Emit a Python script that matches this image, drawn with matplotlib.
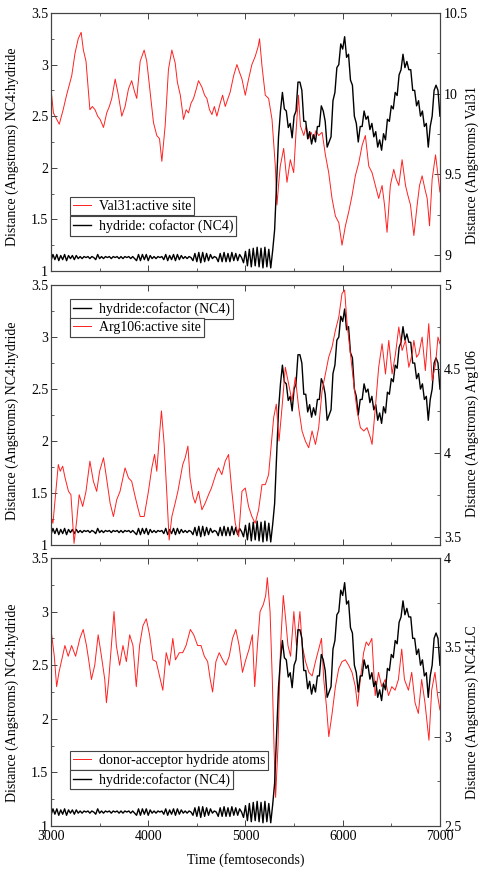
import numpy as np
import matplotlib
matplotlib.use("Agg")
import matplotlib.pyplot as plt
from matplotlib.ticker import MultipleLocator

plt.rcParams['font.family'] = ['Liberation Serif', 'DejaVu Serif']
plt.rcParams['font.size'] = 9

# hydride:cofactor (NC4) distance, every 20 fs from 3000 to 7000
black_t = np.arange(3000, 7001, 20)
black_y = [
    1.10, 1.16, 1.11, 1.16, 1.10, 1.15, 1.11, 1.16, 1.10, 1.15, 1.12, 1.15, 1.11, 1.15,
    1.12, 1.14, 1.12, 1.14, 1.13, 1.14, 1.12, 1.14, 1.13,
    1.11, 1.16, 1.12,
    1.14, 1.12, 1.14, 1.13, 1.14, 1.12, 1.14, 1.13, 1.14, 1.12, 1.14, 1.12, 1.14, 1.13, 1.14, 1.12, 1.14, 1.12,
    1.10, 1.16, 1.10, 1.16, 1.11, 1.16, 1.10, 1.15, 1.12,
    1.14, 1.12, 1.14, 1.13, 1.14,
    1.11, 1.16, 1.10, 1.15, 1.11, 1.16, 1.10, 1.16, 1.11, 1.15, 1.12,
    1.14, 1.12, 1.14, 1.13,
    1.10, 1.17, 1.09, 1.18, 1.08, 1.18, 1.09, 1.17, 1.10, 1.16,
    1.12, 1.14, 1.13,
    1.09, 1.17, 1.09, 1.18, 1.09, 1.17, 1.09, 1.18, 1.10, 1.17, 1.10, 1.16,
    1.13,
    1.08, 1.19, 1.05, 1.21, 1.04, 1.22, 1.05, 1.23, 1.04, 1.22, 1.03, 1.23, 1.04, 1.21, 1.03, 1.20,
    1.40, 1.85, 2.30, 2.55, 2.73, 2.57, 2.55, 2.39, 2.43, 2.29,
    2.50, 2.55, 2.83, 2.83, 2.75, 2.45, 2.45, 2.28, 2.35, 2.23,
    2.32, 2.25, 2.40, 2.40, 2.60, 2.55, 2.45, 2.20, 2.25, 2.30,
    2.65, 2.73, 2.97, 3.00, 3.20, 3.15, 3.27, 3.07, 3.10, 2.85,
    2.80, 2.50, 2.43, 2.25, 2.40, 2.40, 2.55, 2.47, 2.50, 2.37,
    2.43, 2.30, 2.35, 2.20, 2.27, 2.17, 2.33, 2.27, 2.47, 2.45,
    2.60, 2.57, 2.73, 2.70, 2.90, 2.95, 3.10, 2.97, 3.03, 2.95,
    2.95, 2.75, 2.75, 2.60, 2.65, 2.50, 2.55, 2.40, 2.43, 2.20,
    2.40, 2.50, 2.75, 2.80, 2.75, 2.50,
]

# Val31 : active site
val_t = [3000, 3025, 3085, 3125, 3160, 3213, 3247, 3280, 3310, 3333, 3360, 3400, 3425, 3453,
         3480, 3505, 3540, 3573, 3600, 3625, 3660, 3693, 3728, 3762, 3797, 3830, 3860, 3882,
         3917, 3958, 3985, 4020, 4054, 4088, 4116, 4140, 4174, 4208, 4243, 4277, 4300, 4330,
         4363, 4390, 4414, 4440, 4466, 4495, 4517, 4552, 4580, 4603, 4630, 4655, 4680, 4706,
         4740, 4765, 4792, 4820, 4843, 4878, 4912, 4940, 4964, 4998, 5032, 5066, 5100, 5130,
         5145, 5170, 5204, 5238, 5273, 5307, 5324, 5340, 5358, 5393, 5427, 5461, 5496, 5520,
         5545, 5565, 5600, 5625, 5650, 5675, 5700, 5725, 5753, 5788, 5822, 5856, 5890, 5925,
         5960, 5993, 6028, 6063, 6097, 6130, 6165, 6200, 6233, 6268, 6302, 6336, 6370, 6405,
         6430, 6456, 6490, 6525, 6550, 6577, 6611, 6646, 6670, 6697, 6732, 6766, 6790, 6817,
         6845, 6869, 6893, 6920, 6955, 6980, 7000]
val_y = [10.03, 9.88, 9.81, 9.90, 9.99, 10.11, 10.25, 10.34, 10.38, 10.27, 10.20, 9.90, 9.92, 9.90,
         9.86, 9.84, 9.79, 9.88, 9.92, 9.97, 10.09, 9.99, 9.86, 9.92, 10.03, 10.08, 10.01, 9.97,
         10.20, 10.27, 10.20, 10.01, 9.82, 9.74, 9.72, 9.58, 9.80, 10.15, 10.27, 10.19, 10.07, 9.99,
         9.84, 9.90, 9.88, 9.94, 9.97, 10.03, 10.08, 10.04, 9.99, 9.97, 9.90, 9.87, 9.92, 9.86,
         9.94, 9.99, 9.92, 9.97, 10.01, 10.11, 10.18, 10.13, 10.09, 9.99, 10.09, 10.18, 10.23, 10.29,
         10.34, 10.17, 9.99, 9.97, 9.84, 9.55, 9.31, 9.43, 9.55, 9.66, 9.45, 9.59, 9.51, 9.76,
         9.99, 9.80, 9.74, 9.80, 9.72, 9.76, 9.72, 9.77, 9.74, 9.76, 9.62, 9.51, 9.35, 9.24,
         9.20, 9.06, 9.18, 9.27, 9.37, 9.49, 9.57, 9.68, 9.74, 9.55, 9.51, 9.43, 9.35, 9.43,
         9.31, 9.14, 9.43, 9.53, 9.47, 9.43, 9.59, 9.43, 9.37, 9.31, 9.12, 9.31, 9.43, 9.49,
         9.41, 9.35, 9.18, 9.47, 9.62, 9.49, 9.39]

# Arg106 : active site
arg_t = [3000, 3020, 3050, 3075, 3095, 3120, 3145, 3180, 3205, 3237, 3265, 3290, 3326, 3360,
         3400, 3436, 3470, 3500, 3540, 3566, 3608, 3642, 3676, 3710, 3740, 3762, 3797, 3830,
         3865, 3890, 3917, 3958, 4002, 4037, 4065, 4088, 4116, 4136, 4164, 4190, 4215, 4243,
         4277, 4305, 4330, 4355, 4380, 4408, 4430, 4460, 4483, 4517, 4552, 4586, 4620, 4650,
         4672, 4700, 4723, 4757, 4792, 4826, 4860, 4895, 4930, 4964, 4998, 5032, 5066, 5100,
         5135, 5170, 5204, 5238, 5262, 5290, 5317, 5345, 5376, 5410, 5444, 5478, 5513, 5547,
         5582, 5616, 5650, 5685, 5720, 5753, 5788, 5822, 5856, 5890, 5925, 5960, 5993, 6020,
         6045, 6080, 6114, 6148, 6182, 6217, 6250, 6285, 6302, 6336, 6370, 6405, 6440, 6474,
         6508, 6543, 6577, 6611, 6646, 6680, 6715, 6732, 6760, 6783, 6817, 6850, 6885, 6920,
         6955, 6980, 7000]
arg_y = [3.62, 3.58, 3.77, 3.93, 3.89, 3.92, 3.85, 3.77, 3.75, 3.46, 3.60, 3.75, 3.68, 3.77,
         3.95, 3.83, 3.77, 3.89, 3.97, 3.87, 3.70, 3.62, 3.72, 3.77, 3.85, 3.91, 3.85, 3.83,
         3.74, 3.68, 3.62, 3.62, 3.77, 3.91, 3.99, 3.89, 4.11, 4.25, 4.05, 3.77, 3.48, 3.62,
         3.70, 3.77, 3.85, 3.93, 3.97, 4.04, 3.85, 3.74, 3.70, 3.77, 3.66, 3.70, 3.75, 3.79,
         3.83, 3.88, 3.91, 3.87, 3.95, 3.99, 3.77, 3.58, 3.50, 3.77, 3.79, 3.68, 3.62, 3.58,
         3.66, 3.81, 3.81, 3.87, 4.03, 4.21, 4.29, 4.07, 4.27, 4.51, 4.41, 4.31, 4.45, 4.27,
         4.13, 4.07, 4.03, 4.13, 4.05, 4.15, 4.37, 4.47, 4.57, 4.63, 4.73, 4.81, 4.95, 4.97,
         4.77, 4.59, 4.41, 4.25, 4.15, 4.13, 4.15, 4.09, 4.05, 4.27, 4.51, 4.65, 4.47, 4.67,
         4.47, 4.59, 4.75, 4.61, 4.67, 4.51, 4.59, 4.67, 4.57, 4.59, 4.69, 4.49, 4.77, 4.43,
         4.53, 4.69, 4.65]

# donor-acceptor hydride atoms (NC4:LC)
lc_t = [3000, 3034, 3058, 3082, 3110, 3143, 3177, 3212, 3253, 3297, 3331, 3365, 3390, 3416,
        3450, 3485, 3519, 3553, 3570, 3594, 3621, 3648, 3672, 3706, 3740, 3775, 3809, 3843,
        3877, 3911, 3945, 3980, 4014, 4048, 4082, 4116, 4150, 4185, 4218, 4253, 4280, 4320,
        4355, 4389, 4433, 4468, 4508, 4543, 4577, 4611, 4638, 4662, 4696, 4730, 4765, 4799,
        4833, 4867, 4901, 4935, 4969, 5003, 5037, 5071, 5095, 5123, 5150, 5184, 5208, 5225,
        5253, 5276, 5294, 5310, 5334, 5361, 5389, 5413, 5437, 5464, 5498, 5525, 5560, 5584,
        5618, 5652, 5686, 5720, 5754, 5782, 5805, 5833, 5857, 5891, 5925, 5959, 5993, 6027,
        6061, 6096, 6130, 6153, 6181, 6215, 6242, 6266, 6300, 6334, 6368, 6402, 6437, 6471,
        6505, 6539, 6573, 6607, 6635, 6676, 6710, 6744, 6778, 6812, 6846, 6887, 6915, 6949,
        6976, 7000]
lc_y = [3.60, 3.45, 3.28, 3.36, 3.43, 3.51, 3.45, 3.51, 3.45, 3.55, 3.60, 3.51, 3.42, 3.32,
        3.40, 3.57, 3.45, 3.32, 3.19, 3.32, 3.51, 3.70, 3.51, 3.40, 3.51, 3.42, 3.57, 3.51,
        3.28, 3.51, 3.62, 3.66, 3.57, 3.43, 3.42, 3.34, 3.26, 3.47, 3.40, 3.55, 3.43, 3.47,
        3.47, 3.51, 3.60, 3.57, 3.51, 3.51, 3.45, 3.42, 3.32, 3.25, 3.42, 3.47, 3.43, 3.40,
        3.45, 3.55, 3.60, 3.51, 3.36, 3.43, 3.49, 3.57, 3.28, 3.51, 3.70, 3.74, 3.79, 3.89,
        3.70, 3.32, 2.94, 2.66, 2.94, 3.51, 3.79, 3.66, 3.51, 3.45, 3.70, 3.51, 3.70, 3.51,
        3.42, 3.36, 3.34, 3.42, 3.49, 3.55, 3.32, 3.17, 3.00, 3.13, 3.28, 3.38, 3.42, 3.43,
        3.40, 3.36, 3.28, 3.17, 3.32, 3.47, 3.53, 3.51, 3.55, 3.23, 3.36, 3.28, 3.32, 3.23,
        3.28, 3.26, 3.32, 3.49, 3.32, 3.26, 3.36, 3.19, 3.13, 3.32, 3.19, 2.98, 3.26, 3.36,
        3.23, 3.15]

panels = [
    dict(rt=val_t, ry=val_y, rlim=(8.9, 10.5), rlabel="Distance (Angstroms) Val31",
         names=["Val31:active site", "hydride: cofactor (NC4)"], red_first=True,
         black_top=True, leg_y=(0.287, 0.213), rlab_y=0.41, llab_y=0.48),
    dict(rt=arg_t, ry=arg_y, rlim=(3.45, 5.0), rlabel="Distance (Angstroms) Arg106",
         names=["Arg106:active site", "hydride:cofactor (NC4)"], red_first=False,
         black_top=False, leg_y=(0.946, 0.873), rlab_y=0.43, llab_y=0.48),
    dict(rt=lc_t, ry=lc_y, rlim=(2.5, 4.0), rlabel="Distance (Angstroms) NC4:LC",
         names=["donor-acceptor hydride atoms", "hydride:cofactor (NC4)"], red_first=True,
         black_top=True, leg_y=(0.280, 0.209), rlab_y=0.425, llab_y=0.46),
]
boxes = [(0.1045, 0.6903, 0.797, 0.2949),
         (0.1045, 0.3771, 0.797, 0.2971),
         (0.1045, 0.0560, 0.797, 0.3063)]

fig = plt.figure(figsize=(4.88, 8.75), dpi=100)
red = '#ff2020'
frame = '#444444'

for k, (p, box) in enumerate(zip(panels, boxes)):
    ax = fig.add_axes(box)
    tw = ax.twinx()
    lb, = ax.plot(black_t, black_y, color='black', lw=1.0)
    lr, = tw.plot(p['rt'], p['ry'], color=red, lw=0.7)

    ax.set_xlim(3000, 7000)
    ax.set_ylim(1, 3.5)
    tw.set_ylim(*p['rlim'])
    ax.xaxis.set_major_locator(MultipleLocator(1000))
    ax.xaxis.set_minor_locator(MultipleLocator(500))
    ax.yaxis.set_major_locator(MultipleLocator(0.5))
    ax.yaxis.set_minor_locator(MultipleLocator(0.25))
    tw.yaxis.set_major_locator(MultipleLocator(0.5))
    tw.yaxis.set_minor_locator(MultipleLocator(0.25))
    ax.yaxis.set_major_formatter(lambda v, pos: f"{v:g}")
    tw.yaxis.set_major_formatter(lambda v, pos: f"{v:g}")

    ax.tick_params(which='both', direction='in', top=True, right=False,
                   color=frame, labelsize=10)
    ax.tick_params(which='major', length=4, width=0.7, pad=2)
    ax.tick_params(which='minor', length=2, width=0.6)
    ax.tick_params(axis='x', pad=3)
    tw.tick_params(which='both', direction='in', color=frame, labelsize=10)
    tw.tick_params(which='major', length=4, width=0.7, pad=3)
    tw.tick_params(which='minor', length=2, width=0.6)
    if k < 2:
        ax.tick_params(axis='x', labelbottom=False)
    else:
        ax.set_xlabel("Time (femtoseconds)", fontsize=10, labelpad=7)

    for a in (ax, tw):
        for s in a.spines.values():
            s.set_color(frame)
            s.set_linewidth(0.8)

    ax.set_ylabel("Distance (Angstroms) NC4:hydride", fontsize=10)
    ax.yaxis.set_label_coords(-0.082, p['llab_y'])
    tw.set_ylabel(p['rlabel'], fontsize=10, rotation=90)
    tw.yaxis.set_label_coords(1.067, p['rlab_y'])

    if p['black_top']:
        ax.set_zorder(tw.get_zorder() + 1)
        ax.patch.set_visible(False)
        top = ax
    else:
        top = tw

    handles = [lr, lb] if p['red_first'] else [lb, lr]
    labels = p['names'] if p['red_first'] else [p['names'][1], p['names'][0]]
    for h, lab, yy in zip(handles, labels, p['leg_y']):
        leg = top.legend([h], [lab], loc='upper left', bbox_to_anchor=(0.049, yy),
                         borderaxespad=0, fancybox=False, framealpha=1,
                         edgecolor=frame, fontsize=10, handlelength=1.3,
                         handletextpad=0.6, borderpad=0.2)
        leg.get_frame().set_linewidth(0.8)
        top.add_artist(leg)

fig.savefig("out.png", dpi=100)
